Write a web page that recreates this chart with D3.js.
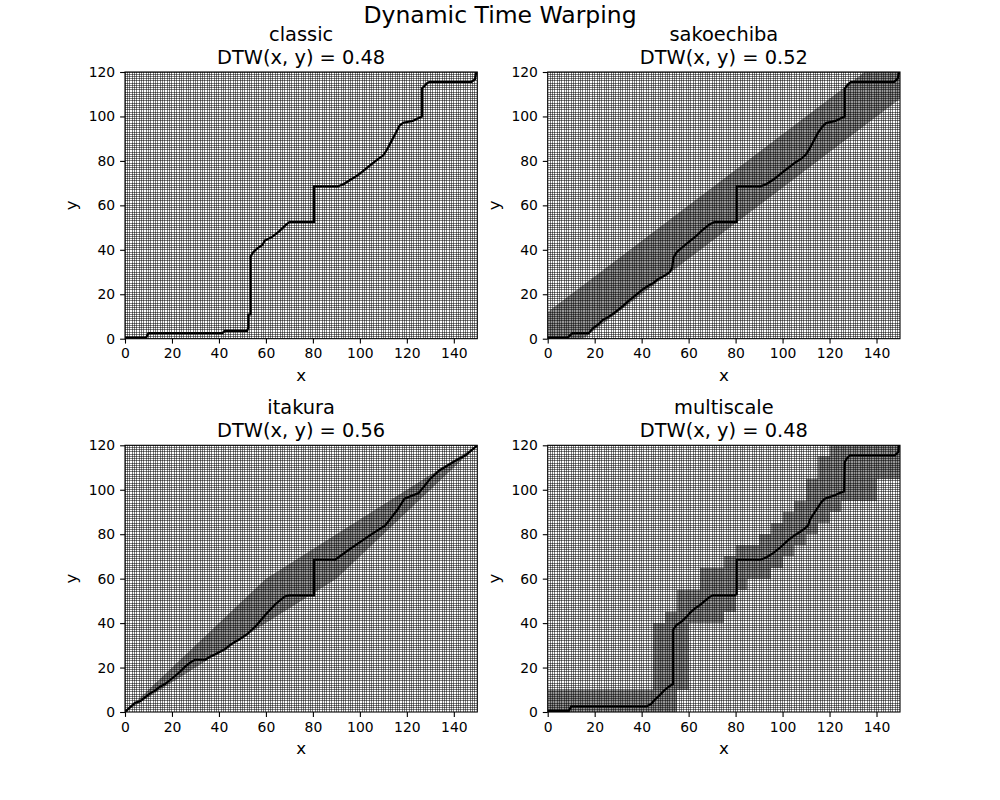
<!DOCTYPE html>
<html>
<head>
<meta charset="utf-8">
<script src="https://cdn.jsdelivr.net/npm/d3@7"></script>
<style>
  body { margin: 0; background: #fff; }
  text { font-family: "DejaVu Sans", sans-serif; fill: #000; }
</style>
</head>
<body>
<svg id="chart" width="1000" height="800"></svg>
<script>
// size of the cost matrix (x timestamps, y timestamps)
const nX = 150;
const nY = 120;
const xTicks = [0, 20, 40, 60, 80, 100, 120, 140];
const yTicks = [0, 20, 40, 60, 80, 100, 120];

const methods = ["classic", "sakoechiba", "itakura", "multiscale"];
const dtwValues = [0.48, 0.52, 0.56, 0.48];

// warping paths, cell coordinates
const classicPathX = [0.5, 9, 10, 41.5, 42.5, 52, 52.5, 52.5, 53.5, 53.5, 54.5, 56.5, 58.5, 59.5, 62.5, 65.5, 68.5, 70, 80.5, 80.5, 90.5, 93, 96, 99, 102, 105, 108, 110, 111.5, 113, 115, 117, 118.5, 122.5, 125, 126.5, 126.5, 127.5, 128.5, 129.5, 147.5, 149, 149.5];
const classicPathY = [0.5, 0.5, 2.5, 2.5, 3.5, 3.5, 5, 10.8, 11, 37, 38.8, 40.8, 42.2, 44.2, 45.7, 48.2, 51.2, 52.5, 52.5, 68.5, 68.5, 69.5, 71.5, 73.5, 76, 78.5, 81, 82.5, 85, 88, 92, 96, 97.2, 98, 99.3, 100, 112.7, 113.7, 114.9, 115.5, 115.5, 116.7, 119.5];

const sakoePathX = [0.5, 8.5, 9.5, 10.5, 17.5, 19.3, 21.4, 23.5, 25.7, 27.8, 30, 32.1, 34.2, 36.4, 38.5, 40.6, 42.8, 44.9, 47, 50, 52, 53, 53.5, 55, 57, 60, 63, 66, 69, 71, 80.5, 80.5, 90.5, 93, 96, 99, 102, 105, 108, 110, 111.5, 113, 115, 117, 118.5, 122.5, 125, 126.5, 126.5, 127.5, 129, 147.5, 149, 149.5];
const sakoePathY = [0.5, 0.5, 1.5, 2.5, 2.5, 4.8, 6.3, 8.5, 9.7, 11.2, 13, 14.8, 16.8, 18.7, 20.5, 22.3, 23.8, 25, 26.8, 28.5, 30, 32, 36.5, 39, 40.8, 43.5, 46, 49, 51.5, 52.5, 52.5, 68.5, 68.5, 69.5, 71.5, 74, 76.5, 79, 81, 83, 85.5, 88.5, 92.5, 95.5, 97, 98, 99.3, 100, 112.5, 114, 115.5, 115.5, 117, 119.5];

const itakuraPathX = [0.5, 2.1, 4.3, 6.4, 8.5, 10.7, 12.8, 14.9, 17, 19.2, 21.3, 23.4, 25.6, 27.7, 29.8, 34.1, 36.2, 38.3, 40.5, 42.6, 44.7, 46.9, 48.3, 52, 56, 60, 64, 68, 70, 80.5, 80.5, 89.5, 96, 104.4, 110.8, 116, 119, 125, 130, 134, 140.6, 145, 149.5];
const itakuraPathY = [0.5, 2.1, 4.2, 4.8, 6.6, 8.4, 9.6, 11.4, 12.6, 14.4, 16.2, 18.1, 20.4, 22.2, 23.5, 23.5, 24.9, 25.9, 27.1, 28.3, 30.1, 31.6, 32.4, 35, 39, 44, 48.5, 52, 52.5, 52.5, 68.5, 68.5, 73.5, 79.6, 84, 91, 96, 98.5, 105, 108.8, 113, 115.5, 119.5];

const multiPathX = [0.5, 9, 10, 42, 44, 45.5, 47.7, 49.8, 52, 53.3, 53.3, 54.8, 57, 59.1, 60.6, 62.7, 64.8, 66.9, 69, 70.4, 79.7, 80.5, 80.5, 90.5, 93, 96, 99, 102.4, 105.2, 107.4, 109.5, 110.9, 111.6, 112.4, 113.8, 115.2, 116.6, 118, 120.2, 122.3, 124.4, 126.2, 126.5, 127.3, 128.7, 147.8, 149.3, 149.5];
const multiPathY = [0.5, 0.5, 2.5, 2.5, 3.6, 5.4, 7.6, 9.9, 11.7, 12.5, 36.9, 39.1, 40.7, 42.8, 44.6, 46.6, 48.1, 50, 51.8, 52.5, 52.5, 53, 68.5, 68.5, 69.5, 71.5, 74, 77.3, 79.6, 81, 82.6, 84, 86.3, 87.8, 90, 92.3, 94.5, 96, 96.8, 97.5, 98.6, 99.2, 112.5, 114, 115.5, 115.5, 117, 119.5];

// allowed regions
const sakoeBandX = [0, 15, 150, 150, 135, 0];
const sakoeBandY = [0, 0, 108, 120, 120, 12];
const itakuraBandX = [0, 60, 150, 90];
const itakuraBandY = [0, 60, 120, 60];
// multiscale region: one range of rows for each block of 5 columns
const multiBlockX = [0, 5, 10, 15, 20, 25, 30, 35, 40, 45, 50, 55, 60, 65, 70, 75, 80, 85, 90, 95, 100, 105, 110, 115, 120, 125, 130, 135, 140, 145];
const multiBlockLo = [0, 0, 0, 0, 0, 0, 0, 0, 0, 0, 0, 10, 40, 40, 40, 45, 55, 60, 60, 65, 70, 75, 80, 85, 90, 95, 95, 95, 105, 105];
const multiBlockHi = [10, 10, 10, 10, 10, 10, 10, 10, 10, 40, 45, 55, 55, 65, 65, 70, 75, 75, 80, 85, 90, 95, 105, 115, 120, 120, 120, 120, 120, 120];

const bandGrey = "#969696";
const svg = d3.select("#chart");

svg.append("text")
  .attr("x", 500).attr("y", 23)
  .attr("text-anchor", "middle")
  .style("font-size", "23.5px")
  .text("Dynamic Time Warping");

const axW = 352.3, axH = 266.7;
const lefts = [125, 547.7, 125, 547.7];
const tops = [72, 72, 445.3, 445.3];

const paths = [
  [classicPathX, classicPathY],
  [sakoePathX, sakoePathY],
  [itakuraPathX, itakuraPathY],
  [multiPathX, multiPathY]
];

methods.forEach((m, k) => {
  const left = lefts[k], top = tops[k];
  const x = d3.scaleLinear().domain([0, nX]).range([left, left + axW]);
  const y = d3.scaleLinear().domain([0, nY]).range([top + axH, top]);
  const g = svg.append("g");

  const clipId = "clip" + k;
  g.append("clipPath").attr("id", clipId)
    .append("rect").attr("x", left).attr("y", top).attr("width", axW).attr("height", axH);
  const plot = g.append("g").attr("clip-path", `url(#${clipId})`);

  plot.append("rect")
    .attr("x", left).attr("y", top).attr("width", axW).attr("height", axH)
    .attr("fill", "#fff");

  // constraint region
  if (m === "sakoechiba" || m === "itakura") {
    const bx = m === "sakoechiba" ? sakoeBandX : itakuraBandX;
    const by = m === "sakoechiba" ? sakoeBandY : itakuraBandY;
    plot.append("polygon")
      .attr("points", bx.map((v, i) => x(v) + "," + y(by[i])).join(" "))
      .attr("fill", bandGrey);
  }
  if (m === "multiscale") {
    plot.selectAll("rect.blk")
      .data(multiBlockX)
      .join("rect")
      .attr("class", "blk")
      .attr("x", d => x(d))
      .attr("width", x(5) - x(0))
      .attr("y", (d, i) => y(multiBlockHi[i]))
      .attr("height", (d, i) => y(multiBlockLo[i]) - y(multiBlockHi[i]))
      .attr("fill", bandGrey)
      .attr("shape-rendering", "crispEdges");
  }

  // warping path
  const px = paths[k][0], py = paths[k][1];
  plot.append("path")
    .datum(d3.range(px.length))
    .attr("d", d3.line().x(i => x(px[i])).y(i => y(py[i])))
    .attr("fill", "none")
    .attr("stroke", "#000")
    .attr("stroke-width", 2.2)
    .attr("stroke-linecap", "square")
    .attr("stroke-linejoin", "miter");

  // cell edges
  plot.append("g").selectAll("line")
    .data(d3.range(nX + 1))
    .join("line")
    .attr("x1", d => x(d)).attr("x2", d => x(d))
    .attr("y1", top).attr("y2", top + axH)
    .attr("stroke", "#000").attr("stroke-opacity", 0.5)
    .attr("shape-rendering", "crispEdges");
  plot.append("g").selectAll("line")
    .data(d3.range(nY + 1))
    .join("line")
    .attr("y1", d => y(d)).attr("y2", d => y(d))
    .attr("x1", left).attr("x2", left + axW)
    .attr("stroke", "#000").attr("stroke-opacity", 0.5)
    .attr("shape-rendering", "crispEdges");

  // axes
  const xAxis = g.append("g").attr("transform", `translate(0,${top + axH})`)
    .call(d3.axisBottom(x).tickValues(xTicks).tickSize(4.9).tickPadding(4.9));
  const yAxis = g.append("g").attr("transform", `translate(${left},0)`)
    .call(d3.axisLeft(y).tickValues(yTicks).tickSize(4.9).tickPadding(4.9));
  [xAxis, yAxis].forEach(a => {
    a.select(".domain").remove();
    a.selectAll("line").attr("stroke", "#000").attr("stroke-width", 1.1);
    a.selectAll("text").style("font-size", "13.9px").style("font-family", '"DejaVu Sans", sans-serif').attr("fill", "#000");
  });

  g.append("rect")
    .attr("x", left).attr("y", top).attr("width", axW).attr("height", axH)
    .attr("fill", "none").attr("stroke", "#000").attr("stroke-width", 1.1);

  g.append("text")
    .attr("x", left + axW / 2).attr("y", top + axH + 42)
    .attr("text-anchor", "middle").style("font-size", "16.7px")
    .text("x");
  g.append("text")
    .attr("transform", `translate(${left - 48},${top + axH / 2}) rotate(-90)`)
    .attr("text-anchor", "middle").style("font-size", "16.7px")
    .text("y");

  g.append("text")
    .attr("x", left + axW / 2).attr("y", top - 31)
    .attr("text-anchor", "middle").style("font-size", "19.4px")
    .text(m);
  g.append("text")
    .attr("x", left + axW / 2).attr("y", top - 8)
    .attr("text-anchor", "middle").style("font-size", "19.4px")
    .text(`DTW(x, y) = ${dtwValues[k].toFixed(2)}`);
});
</script>
</body>
</html>
